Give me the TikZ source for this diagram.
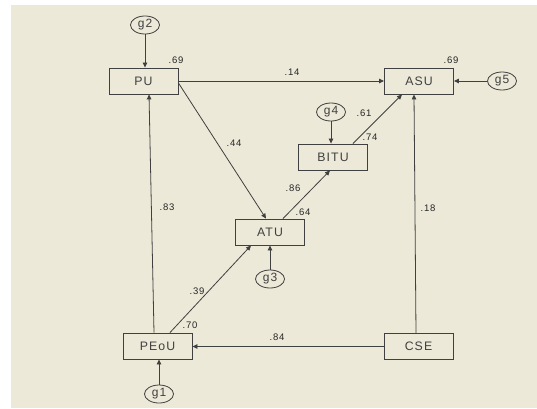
\documentclass[tikz,border=0pt]{standalone}
\usepackage{fontspec}
\setmainfont{Liberation Sans}
\newfontfamily\boxfont[LetterSpace=9]{Liberation Sans}
\newfontfamily\numfont[LetterSpace=9]{Liberation Sans}
\usetikzlibrary{arrows.meta,shapes.geometric}
\definecolor{bgc}{RGB}{236,233,216}
\definecolor{ln}{RGB}{64,64,64}
\tikzset{
  var/.style={draw=ln, line width=0.9pt, minimum width=69pt, minimum height=26pt, inner sep=0pt, font=\boxfont\fontsize{12.3}{13}\selectfont, text=black!75},
  err/.style={draw=ln, line width=0.8pt, ellipse, minimum width=29pt, minimum height=18pt, inner sep=0pt, text height=6pt, text depth=1pt, font=\boxfont\fontsize{12}{13}\selectfont, text=black!75},
  num/.style={inner sep=0pt, font=\numfont\fontsize{9.5}{10}\selectfont, text=black!85},
  conn/.style={draw=ln, line width=0.8pt, -{Triangle[length=5pt,width=4.5pt]}}
}
\begin{document}
\begin{tikzpicture}[x=1pt,y=-1pt]
\useasboundingbox (0,0) rectangle (537,408);
\fill[white] (0,0) rectangle (537,408);
\fill[bgc] (11,5) rectangle (537,408);

\node[var] (PU) at (143.5,81) {PU};
\node[var] (ASU) at (419,81) {ASU};
\node[var] (BITU) at (333,157) {BITU};
\node[var] (ATU) at (270,232) {ATU};
\node[var] (PEoU) at (157.5,346) {PEoU};
\node[var] (CSE) at (418.5,346.5) {CSE};

\node[err] (g2) at (145,25) {g2};
\node[err] (g5) at (502,81) {g5};
\node[err] (g4) at (331,112) {g4};
\node[err] (g3) at (270,279) {g3};
\node[err] (g1) at (159,394) {g1};

\draw[conn] (g2.south) -- (g2.south |- PU.north);
\draw[conn] ([xshift=-3.5pt]PEoU.north) -- ([xshift=5.5pt]PU.south);
\draw[conn] (PU.east) -- (ASU.west);
\draw[conn] ([yshift=-2pt]PU.east) -- ([xshift=-4pt]ATU.north);
\draw[conn] ([xshift=13pt]ATU.north) -- ([xshift=-3pt]BITU.south);
\draw[conn] ([xshift=20pt]BITU.north) -- ([xshift=-17pt]ASU.south);
\draw[conn] (g4.south) -- (g4.south |- BITU.north);
\draw[conn] (g5.west) -- (ASU.east);
\draw[conn] ([xshift=-2.5pt]CSE.north) -- ([xshift=-5pt]ASU.south);
\draw[conn] (CSE.west) -- (CSE.west -| PEoU.east);
\draw[conn] ([xshift=12.5pt]PEoU.north) -- ([xshift=-19pt]ATU.south);
\draw[conn] (g3.north) -- (ATU.south);
\draw[conn] (g1.north) -- (g1.north |- PEoU.south);

\node[num] (r1) at (176,60) {.69};
\node[num] (r2) at (451,60) {.69};
\node[num] (c1) at (292,72) {.14};
\node[num] (c2) at (234,143) {.44};
\node[num] (c3) at (167,207) {.83};
\node[num] (r3) at (364,113) {.61};
\node[num] (r4) at (370,137) {.74};
\node[num] (c4) at (293,188) {.86};
\node[num] (r5) at (303,212) {.64};
\node[num] (c5) at (197,291) {.39};
\node[num] (r6) at (190,325) {.70};
\node[num] (c6) at (277,337) {.84};
\node[num] (c7) at (428,208) {.18};
\end{tikzpicture}
\end{document}
